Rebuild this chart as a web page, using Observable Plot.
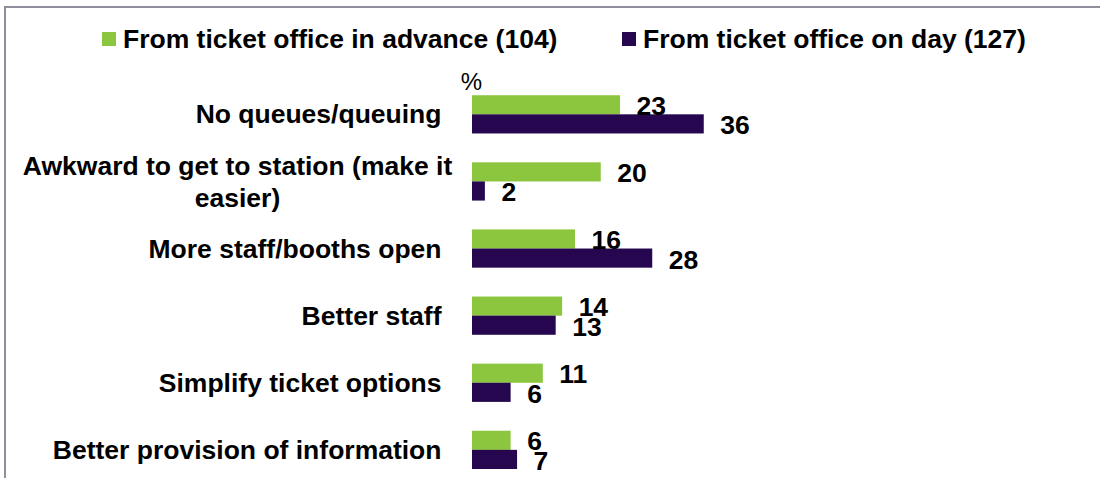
<!DOCTYPE html>
<html><head><meta charset="utf-8">
<script src="https://cdn.jsdelivr.net/npm/d3@7"></script>
<script src="https://cdn.jsdelivr.net/npm/@observablehq/plot@0.6"></script>
<style>
body{margin:0;background:#fff;font-family:"Liberation Sans",Arial,sans-serif;}
#wrap{position:relative;width:1100px;height:478px;overflow:hidden;background:#fff;}
#frame{position:absolute;left:4px;top:6px;width:1200px;height:600px;border-left:2px solid #8e8e9c;border-top:2px solid #8e8e9c;pointer-events:none;}
#legend{position:relative;height:50px;font-weight:bold;font-size:26.5px;color:#000;}
.item{position:absolute;top:24px;height:30px;line-height:30px;display:flex;align-items:center;white-space:nowrap;}
.sw{width:14px;height:14px;margin-right:7px;flex:none;}
#chart svg{display:block;}
</style>
</head><body>
<div id="wrap">
  <div id="legend"></div>
  <div id="chart"></div>
  <div id="frame"></div>
</div>
<script>
const categories = [
  "No queues/queuing",
  "Awkward to get to station (make it\neasier)",
  "More staff/booths open",
  "Better staff",
  "Simplify ticket options",
  "Better provision of information"
];
const seriesNames = ["From ticket office in advance (104)", "From ticket office on day (127)"];
const seriesColors = ["#8cc63f", "#26074f"];
const advance = [23, 20, 16, 14, 11, 6];
const onDay = [36, 2, 28, 13, 6, 7];
const unitLabel = "%";

const advData = categories.map((c, i) => ({category: c, value: advance[i]}));
const dayData = categories.map((c, i) => ({category: c, value: onDay[i]}));

// Legend
const legend = document.getElementById("legend");
const legendLefts = [102, 622];
seriesNames.forEach((name, i) => {
  const it = document.createElement("div");
  it.className = "item";
  it.style.left = legendLefts[i] + "px";
  const sw = document.createElement("span");
  sw.className = "sw";
  sw.style.background = seriesColors[i];
  const tx = document.createElement("span");
  tx.textContent = name;
  it.appendChild(sw); it.appendChild(tx);
  legend.appendChild(it);
});

const font = {fontSize: 26.5, fontWeight: "bold", fill: "#000"};
const half = 19.1;

const plot = Plot.plot({
  width: 1100,
  height: 428,
  marginLeft: 472,
  marginRight: 10,
  marginTop: 38.5,
  marginBottom: 2.3,
  style: {fontFamily: "'Liberation Sans', Arial, sans-serif", background: "transparent", overflow: "visible"},
  x: {domain: [0, 96], axis: null},
  y: {domain: categories, axis: null, paddingInner: 0.43, paddingOuter: 0.1, round: false},
  marks: [
    Plot.barX(advData, {x: "value", y: "category", fill: seriesColors[0], insetBottom: half, insetTop: 0}),
    Plot.barX(dayData, {x: "value", y: "category", fill: seriesColors[1], insetTop: half, insetBottom: 0}),
    Plot.text(advData, {x: "value", y: "category", text: d => String(d.value), textAnchor: "start", dx: 16, dy: -8.5, ...font}),
    Plot.text(dayData, {x: "value", y: "category", text: d => String(d.value), textAnchor: "start", dx: 16, dy: 11, ...font}),
    Plot.text(categories.filter(c => !c.includes("\n")), {x: () => 0, y: d => d, text: d => d, textAnchor: "end", dx: -31, dy: 0, ...font}),
    Plot.text(categories.filter(c => c.includes("\n")), {x: () => 0, y: d => d, text: d => d, textAnchor: "middle", dx: -235, dy: -1, lineHeight: 1.2, ...font}),
    Plot.text([unitLabel], {frameAnchor: "top-left", text: d => d, textAnchor: "middle", dx: -1, dy: -16, fontSize: 24, fill: "#000"})
  ]
});
document.getElementById("chart").appendChild(plot);
</script>
</body></html>
